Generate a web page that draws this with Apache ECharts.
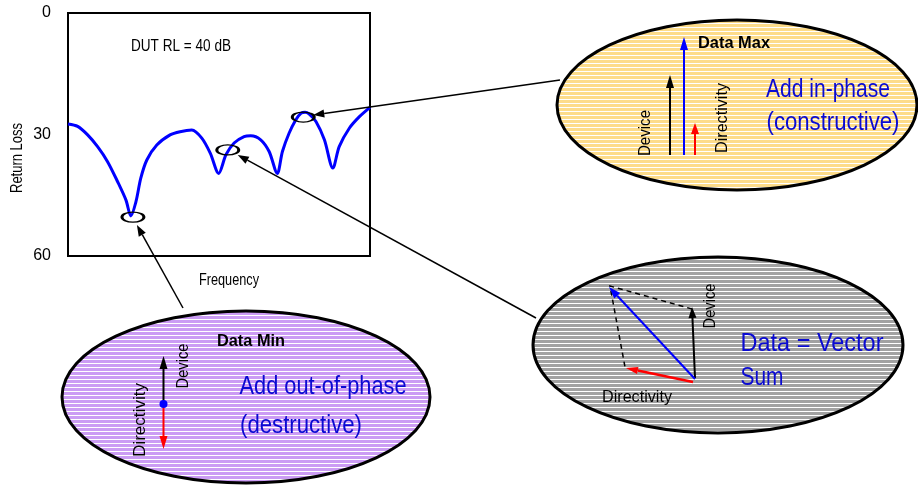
<!DOCTYPE html>
<html>
<head>
<meta charset="utf-8">
<script src="https://cdn.jsdelivr.net/npm/echarts@6/dist/echarts.min.js"></script>
<style>
  html, body { margin: 0; padding: 0; background: #fff; }
  #main { width: 918px; height: 486px; }
</style>
</head>
<body>
<div id="main"></div>
<script>
// return loss curve (frequency in % of span, return loss in dB)
const freq = [0, 3.2, 6.5, 9.8, 13.1, 16.4, 19.2, 20.8, 22.5, 24.1, 26.1, 29.4, 33.8, 37.1, 41.0,
  44.3, 47.1, 49.9, 52.3, 55.0, 58.3, 60.5, 63.8, 66.6, 69.3, 71.0, 73.2, 75.4, 77.2, 78.5, 79.8,
  82.1, 84.9, 87.7, 89.8, 93.2, 96.5, 100];
const returnLoss = [27.4, 28.0, 30.1, 33.0, 36.7, 41.6, 46.2, 50.1, 46.6, 40.8, 36.3, 32.6, 30.1, 29.3, 28.9,
  30.9, 34.6, 39.6, 35.0, 32.1, 30.5, 30.3, 31.3, 34.2, 39.6, 34.2, 29.7, 26.4, 24.7, 24.5, 24.9,
  26.8, 31.3, 38.3, 33.0, 28.4, 25.6, 23.3];
const yTicks = [0, 30, 60];
// circled spots on the trace: min, middle, max
const spots = [[21.5, 50.4], [52.9, 33.8], [77.9, 25.7]];

const FONT = '"Liberation Sans", Arial, sans-serif';
const BLUE_TXT = '#0a0ad2';

const chart = echarts.init(document.getElementById('main'));

// striped fill like the original halftone
function stripes(color) {
  const c = document.createElement('canvas');
  c.width = 4; c.height = 4;
  const ctx = c.getContext('2d');
  ctx.fillStyle = color;
  ctx.fillRect(0, 0, 4, 4);
  ctx.fillStyle = '#ffffff';
  ctx.fillRect(0, 3, 4, 1);
  return { image: c, repeat: 'repeat' };
}

function arrow(x1, y1, x2, y2, color, w, hl, hw, z) {
  const a = Math.atan2(y2 - y1, x2 - x1);
  const bx = x2 - hl * Math.cos(a), by = y2 - hl * Math.sin(a);
  const px = -Math.sin(a) * hw, py = Math.cos(a) * hw;
  return [
    { type: 'line', z: z, shape: { x1: x1, y1: y1, x2: bx, y2: by }, style: { stroke: color, lineWidth: w } },
    { type: 'polygon', z: z, shape: { points: [[x2, y2], [bx + px, by + py], [bx - px, by - py]] }, style: { fill: color } }
  ];
}

// the original uses a condensed face: squeeze regular text to the measured width
const measure = document.createElement('canvas').getContext('2d');
function txt(x, y, s, w, opt) {
  opt = opt || {};
  const font = (opt.weight || 'normal') + ' ' + (opt.size || 16) + 'px ' + FONT;
  measure.font = font;
  const sx = w / measure.measureText(s).width;
  return {
    type: 'text', x: x, y: y, z: 20, rotation: opt.rot || 0, scaleX: sx,
    style: { text: s, fill: opt.color || '#000', font: font, align: 'center', verticalAlign: 'middle' }
  };
}

chart.setOption({
  animation: false,
  grid: { left: 68, top: 13, right: 548, bottom: 230, show: true, borderColor: '#000', borderWidth: 2 },
  xAxis: {
    type: 'value', min: 0, max: 100,
    axisLabel: { show: false }, axisTick: { show: false }, axisLine: { show: false }, splitLine: { show: false }
  },
  yAxis: {
    type: 'value', inverse: true, min: 0, max: 60, interval: 30,
    axisLabel: {
      fontFamily: FONT, fontSize: 16, color: '#000', margin: 17,
      formatter: v => (yTicks.indexOf(v) >= 0 ? String(v) : '')
    },
    axisTick: { show: false }, axisLine: { show: false }, splitLine: { show: false }
  },
  series: [{
    type: 'line',
    data: freq.map((f, i) => [f, returnLoss[i]]),
    smooth: 0.3,
    showSymbol: false,
    lineStyle: { color: '#0000ff', width: 3, join: 'round' },
    markPoint: {
      symbol: 'circle', symbolSize: [22, 10],
      itemStyle: { color: 'rgba(0,0,0,0)', borderColor: '#000', borderWidth: 2 },
      label: { show: false },
      data: spots.map(s => ({ coord: s }))
    }
  }]
});

const p = spots.map(s => chart.convertToPixel({ gridIndex: 0 }, s));
const UP = Math.PI / 2;

const g = [];
// axis titles and the label inside the plot
g.push(txt(18, 158, 'Return Loss', 70, { rot: UP, size: 16 }));
g.push(txt(229, 281, 'Frequency', 60, { size: 16 }));
g.push(txt(181, 47, 'DUT RL = 40 dB', 100, { size: 16 }));

// ellipses
g.push({ type: 'ellipse', z: 5, shape: { cx: 737, cy: 105, rx: 180, ry: 85 }, style: { fill: stripes('#fddc8a'), stroke: '#000', lineWidth: 3 } });
g.push({ type: 'ellipse', z: 5, shape: { cx: 718, cy: 345, rx: 185, ry: 88 }, style: { fill: stripes('#a2a2a2'), stroke: '#000', lineWidth: 3 } });
g.push({ type: 'ellipse', z: 5, shape: { cx: 246, cy: 397, rx: 184, ry: 86 }, style: { fill: stripes('#cb9cf4'), stroke: '#000', lineWidth: 3 } });

// pointers from the ellipses to the trace
g.push(...arrow(560, 80, p[2][0] + 10, p[2][1] - 2, '#000', 1.5, 11, 4, 4));
g.push(...arrow(536, 318, p[1][0] + 10, p[1][1] + 5, '#000', 1.5, 11, 4, 4));
g.push(...arrow(183, 308, p[0][0] + 4, p[0][1] + 8, '#000', 1.5, 11, 4, 4));

// Data Max: in phase
g.push(...arrow(670, 155, 670, 75, '#000', 2, 13, 4, 10));
g.push(...arrow(684, 155, 684, 37, '#0000ff', 2, 13, 4, 10));
g.push(...arrow(695, 155, 695, 123, '#ff0000', 2, 11, 4, 10));
g.push(txt(734, 43, 'Data Max', 72, { weight: 'bold', size: 17 }));
g.push(txt(645, 133, 'Device', 46, { rot: UP, size: 17 }));
g.push(txt(722, 118, 'Directivity', 70, { rot: UP, size: 17 }));
g.push(txt(828, 90, 'Add in-phase', 124, { color: BLUE_TXT, size: 25 }));
g.push(txt(833, 123, '(constructive)', 133, { color: BLUE_TXT, size: 25 }));

// vector sum
g.push({ type: 'polyline', z: 10, shape: { points: [[692, 309], [610, 286], [625, 367]] }, style: { stroke: '#000', lineWidth: 1.5, lineDash: [5, 4], fill: null } });
g.push(...arrow(695, 378, 692, 307, '#000', 2, 11, 4, 11));
g.push(...arrow(693, 382, 626, 368, '#ff0000', 2.5, 12, 3.5, 11));
g.push(...arrow(695, 379, 609, 287, '#0000ff', 2, 12, 4, 11));
g.push(txt(710, 306, 'Device', 45, { rot: UP, size: 17 }));
g.push(txt(637, 397, 'Directivity', 70, { size: 17 }));
g.push(txt(812, 344, 'Data = Vector', 143, { color: BLUE_TXT, size: 25 }));
g.push(txt(762, 378, 'Sum', 43, { color: BLUE_TXT, size: 25 }));

// Data Min: out of phase
g.push(...arrow(163.5, 404, 163.5, 356, '#000', 2, 13, 4, 10));
g.push(...arrow(163.5, 404, 163.5, 449, '#ff0000', 2, 13, 4, 10));
g.push({ type: 'circle', z: 12, shape: { cx: 163.5, cy: 404, r: 4 }, style: { fill: '#0000ff' } });
g.push(txt(251, 341, 'Data Min', 68, { weight: 'bold', size: 17 }));
g.push(txt(183, 366, 'Device', 45, { rot: UP, size: 17 }));
g.push(txt(140, 420, 'Directivity', 74, { rot: UP, size: 17 }));
g.push(txt(323, 387, 'Add out-of-phase', 167, { color: BLUE_TXT, size: 25 }));
g.push(txt(301, 426, '(destructive)', 122, { color: BLUE_TXT, size: 25 }));

chart.setOption({ graphic: g });
</script>
</body>
</html>
